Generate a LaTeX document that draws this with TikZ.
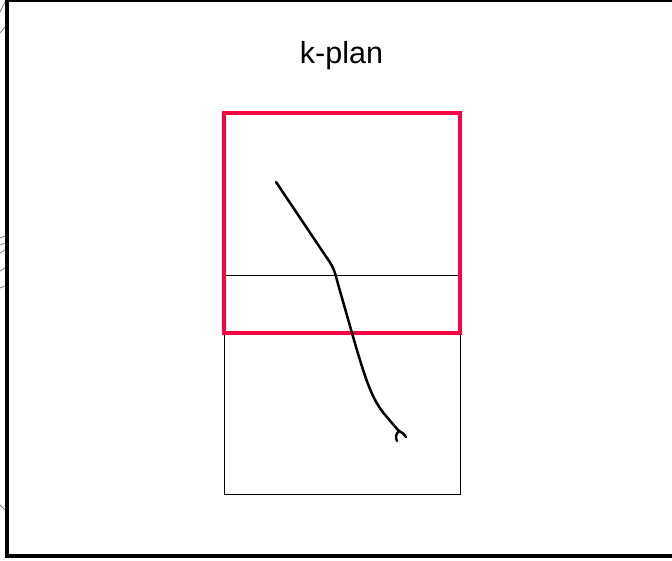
\documentclass[tikz,border=0pt]{standalone}
\usepackage{fontspec}
\setmainfont{Liberation Sans}
\definecolor{kred}{RGB}{250,0,64}
\begin{document}
\begin{tikzpicture}[x=1pt,y=-1pt,
  frame/.style={line width=4pt,black},
  redbox/.style={draw=kred,line width=4pt},
  thinbox/.style={draw=black,line width=1pt},
  stroke/.style={line width=2.5pt,line cap=round,line join=round},
  frag/.style={draw=gray,line width=0.8pt}]
\useasboundingbox (0,0) rectangle (672,560);
\fill[white] (0,0) rectangle (672,560);
% frame
\draw[line width=2pt] (5,1) -- (672,1);
\draw[frame] (7,0) -- (7,557);
\draw[line width=4.5pt] (5,556) -- (672,556);
% grey fragments left of frame
\draw[frag] (0,12) -- (5,2);
\draw[frag] (0,33) -- (5,27);
\draw[frag] (0,238) -- (5,236);
\draw[frag] (0,245) -- (5,243);
\draw[frag] (0,253) -- (5,250);
\draw[frag] (0,271) -- (5,268);
\draw[frag] (0,288) -- (5,286);
\draw[frag] (0,505) -- (5,510);
% title
\node[font=\fontsize{30.5}{36}\selectfont,anchor=base] (title) at (341.5,63) {k-plan};
% boxes
\node[thinbox,minimum width=236pt,minimum height=219pt,inner sep=0pt] (low) at (342,384.5) {};
\node[redbox,minimum width=236pt,minimum height=220pt,inner sep=0pt] (up) at (342,223) {};
% stroke
\coordinate (s) at (276,182);
\coordinate (e) at (400,432);
\draw[stroke] (s) -- (327,258) .. controls (333,266) and (335,272) .. (338,284)
  -- (356,347) .. controls (366,380) and (372,400) .. (386,416)
  .. controls (392,423) and (396,428) .. (e);
\draw[stroke] (399,431) .. controls (396,434) and (395,437) .. (397,441);
\draw[stroke] (399,431) .. controls (402,432) and (404,434) .. (406,437);
\end{tikzpicture}
\end{document}
